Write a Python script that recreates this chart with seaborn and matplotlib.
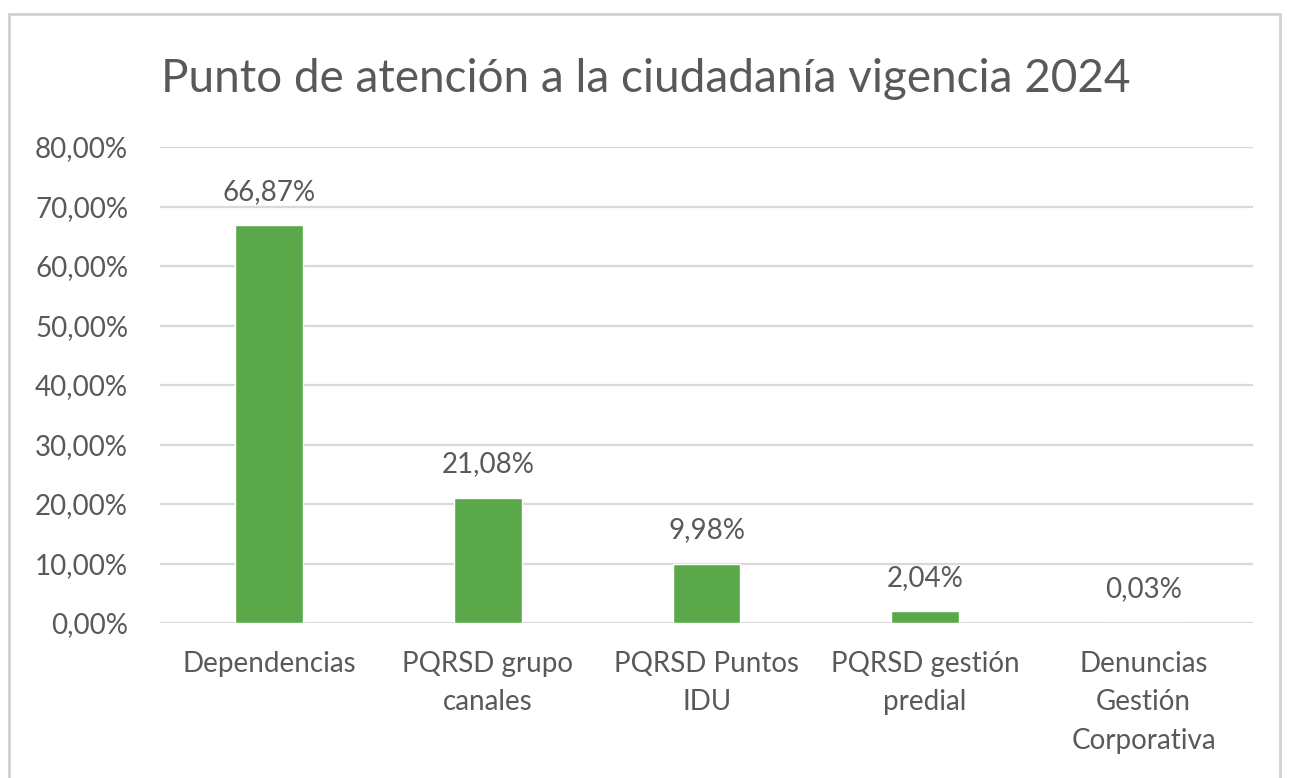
import matplotlib
matplotlib.use("Agg")
import matplotlib.pyplot as plt
import matplotlib.patches as mpatches
import seaborn as sns
import pandas as pd

categorias = ["Dependencias", "PQRSD grupo\ncanales", "PQRSD Puntos\nIDU",
              "PQRSD gestión\npredial", "Denuncias\nGestión\nCorporativa"]
porcentajes = [66.87, 21.08, 9.98, 2.04, 0.03]
etiquetas = ["66,87%", "21,08%", "9,98%", "2,04%", "0,03%"]
yticks = [0, 10, 20, 30, 40, 50, 60, 70, 80]
ytick_labels = ["0,00%", "10,00%", "20,00%", "30,00%", "40,00%",
                "50,00%", "60,00%", "70,00%", "80,00%"]

df = pd.DataFrame({"categoria": categorias, "valor": porcentajes})

sns.set_theme(style="white")
plt.rcParams["font.family"] = ["Lato", "DejaVu Sans"]
gris = "#595959"

fig = plt.figure(figsize=(12.91, 7.78), dpi=100)
ax = fig.add_axes([0.124, 0.1992, 0.8466, 0.6118])

sns.barplot(data=df, x="categoria", y="valor", color="#5ba84b",
            saturation=1, width=0.31, ax=ax)

ax.set_ylim(0, 80)
ax.set_yticks(yticks)
ax.set_yticklabels(ytick_labels, fontsize=20, color=gris)
ax.set_xticks(range(len(categorias)))
ax.set_xticklabels(categorias, fontsize=20, color=gris, linespacing=1.6)
ax.tick_params(axis="x", length=0, pad=20)
ax.tick_params(axis="y", length=0, pad=23)
ax.set_xlabel("")
ax.set_ylabel("")
ax.yaxis.grid(True, color="#d9d9d9", linewidth=1.6)
ax.set_axisbelow(True)
for s in ax.spines.values():
    s.set_visible(False)

for p, txt in zip(ax.patches, etiquetas):
    ax.annotate(txt, (p.get_x() + p.get_width() / 2, p.get_height()),
                xytext=(0, 24), textcoords="offset points",
                ha="center", va="center", fontsize=20, color=gris)

fig.text(0.5, 0.898, "Punto de atención a la ciudadanía vigencia 2024",
         ha="center", va="center", fontsize=33, color=gris)

fig.patches.append(mpatches.Rectangle((9 / 1291, -0.05), 1271 / 1291, 1.05 - 14 / 778,
                                      transform=fig.transFigure, fill=False,
                                      edgecolor="#d0d0d0", linewidth=2))

fig.savefig("out.png", dpi=100)
